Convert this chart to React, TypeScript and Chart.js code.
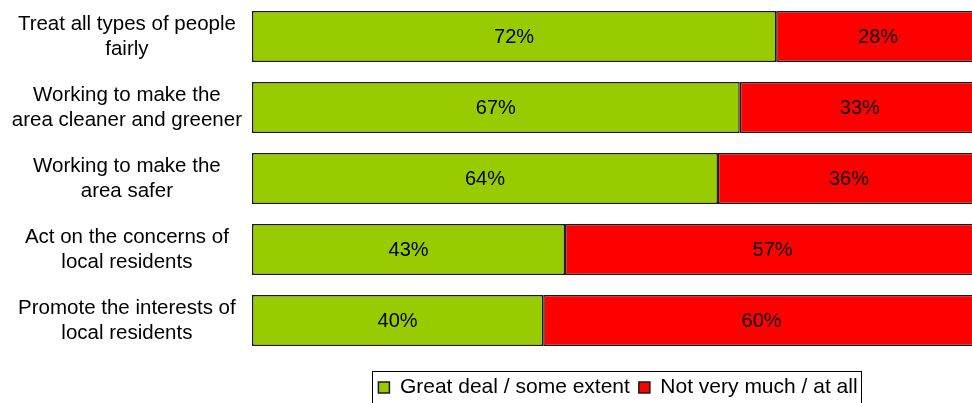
import React, { useEffect, useRef } from "react";
import { Chart, registerables } from "chart.js";

Chart.register(...registerables);

const categories: string[][] = [
  ["Treat all types of people", "fairly"],
  ["Working to make the", "area cleaner and greener"],
  ["Working to make the", "area safer"],
  ["Act on the concerns of", "local residents"],
  ["Promote the interests of", "local residents"],
];
const greatDeal: number[] = [72, 67, 64, 43, 40];
const notMuch: number[] = [28, 33, 36, 57, 60];
const seriesNames: string[] = ["Great deal / some extent", "Not very much / at all"];

const FONT = "'Liberation Sans', Arial, sans-serif";

const valueLabels = {
  id: "valueLabels",
  afterDatasetsDraw(chart: any) {
    const ctx = chart.ctx;
    ctx.save();
    ctx.font = `20px ${FONT}`;
    ctx.fillStyle = "#000";
    ctx.textAlign = "center";
    ctx.textBaseline = "middle";
    chart.data.datasets.forEach((ds: any, di: number) => {
      const meta = chart.getDatasetMeta(di);
      meta.data.forEach((el: any, i: number) => {
        const x = (el.x + el.base) / 2;
        ctx.fillText(`${ds.data[i]}%`, x, el.y + 1);
      });
    });
    ctx.restore();
  },
};

const legendShift = {
  id: "legendShift",
  afterUpdate(chart: any) {
    const lg = chart.legend;
    if (!lg) return;
    const ca = chart.chartArea;
    const dx = (ca.left + ca.right) / 2 - (lg.left + lg.right) / 2 + 2;
    const dy = 12;
    lg.left += dx;
    lg.right += dx;
    lg.top += dy;
    lg.bottom += dy;
    (lg.legendHitBoxes || []).forEach((h: any) => {
      h.left += dx;
      h.top += dy;
    });
  },
  afterDraw(chart: any) {
    const lg = chart.legend;
    if (!lg || !lg.legendHitBoxes || !lg.legendHitBoxes.length) return;
    const hb = lg.legendHitBoxes;
    const l = Math.min(...hb.map((h: any) => h.left)) - 6;
    const r = Math.max(...hb.map((h: any) => h.left + h.width)) + 4;
    const t = hb[0].top - 6;
    const ctx = chart.ctx;
    ctx.save();
    ctx.strokeStyle = "#000";
    ctx.lineWidth = 1;
    ctx.strokeRect(Math.round(l) + 0.5, Math.round(t) + 0.5, Math.round(r - l), 100);
    ctx.restore();
  },
};

export default function App() {
  const ref = useRef<HTMLCanvasElement>(null);
  useEffect(() => {
    if (!ref.current) return;
    const chart = new Chart(ref.current, {
      type: "bar",
      data: {
        labels: categories,
        datasets: [
          {
            label: seriesNames[0],
            data: greatDeal,
            backgroundColor: "#99CC00",
            borderColor: "#1a1a1a",
            borderWidth: 1.5,
            borderSkipped: false,
            categoryPercentage: 1,
            barPercentage: 0.716,
          },
          {
            label: seriesNames[1],
            data: notMuch,
            backgroundColor: "#FF0000",
            borderColor: "#1a1a1a",
            borderWidth: 1.5,
            borderSkipped: false,
            categoryPercentage: 1,
            barPercentage: 0.716,
          },
        ],
      },
      options: {
        indexAxis: "y",
        animation: false,
        responsive: false,
        maintainAspectRatio: false,
        layout: { padding: { top: 1, right: 2, bottom: 7, left: 0 } },
        scales: {
          x: {
            stacked: true,
            min: 0,
            max: 100,
            display: false,
          },
          y: {
            stacked: true,
            grid: { display: false, drawTicks: false },
            border: { display: false },
            ticks: {
              color: "#000",
              font: { family: FONT, size: 20.5, lineHeight: 1.22 },
              crossAlign: "center",
              padding: 10,
              autoSkip: false,
            },
            afterFit(scale: any) {
              scale.width = 252;
              scale.paddingTop = 0;
              scale.paddingBottom = 0;
            },
          },
        },
        plugins: {
          legend: {
            position: "bottom",
            labels: {
              color: "#000",
              font: { family: FONT, size: 21 },
              boxWidth: 11,
              boxHeight: 11,
              padding: 9,
            },
          },
          tooltip: { enabled: false },
        },
      },
      plugins: [valueLabels, legendShift],
    });
    return () => chart.destroy();
  }, []);
  return (
    <div
      style={{
        position: "fixed",
        left: 0,
        top: 0,
        width: 972,
        height: 403,
        overflow: "hidden",
        background: "#fff",
      }}
    >
      <canvas ref={ref} width={982} height={403} style={{ display: "block" }} />
    </div>
  );
}
